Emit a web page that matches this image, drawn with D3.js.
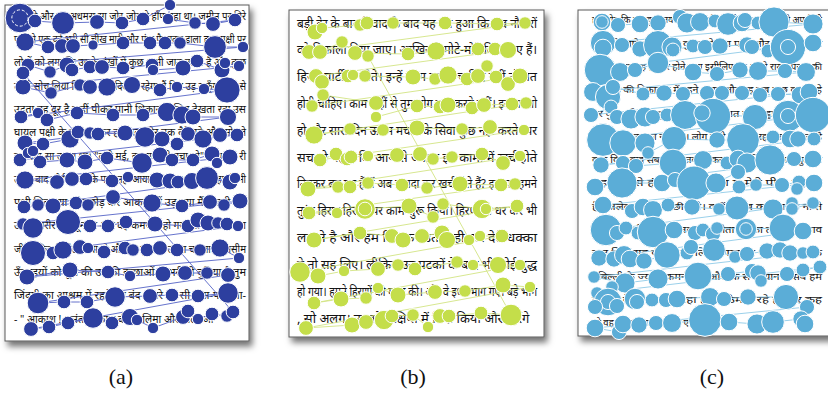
<!DOCTYPE html>
<html><head><meta charset="utf-8">
<script src="https://cdn.jsdelivr.net/npm/d3@7"></script>
<style>body{margin:0;background:#fff}svg{display:block}</style>
</head><body>
<svg id="chart" width="828" height="394"></svg>
<script>
// Fixations of three readers: [x, y, duration in ms], x/y in page pixels, in scanpath order.
const fixationsA = [
  [15,13,676],[30,16,144],[58,18,400],[92,17,169],[117,18,144],[138,14,144],[165,0,100],[163,14,100],[190,18,121],[208,19,169],[230,15,144],
  [20,37,256],[43,42,144],[57,41,169],[68,41,169],[88,40,81],[118,38,144],[145,38,144],[160,38,144],[175,38,121],[210,42,400],[238,42,100],
  [23,60,144],[45,67,121],[62,60,196],[67,65,144],[85,62,144],[97,62,169],[118,63,144],[147,60,144],[148,65,100],[178,63,196],[192,56,144],[217,65,196],[220,58,100],[234,61,100],
  [18,82,196],[46,88,121],[75,80,121],[85,82,169],[102,82,256],[127,80,225],[155,85,144],[172,82,100],[199,84,100],[222,85,529],
  [16,112,144],[33,108,100],[42,115,144],[72,108,144],[108,110,144],[138,110,144],[162,107,289],[177,110,256],[188,112,196],[223,112,225],
  [20,138,196],[38,139,144],[65,134,256],[73,127,144],[85,128,121],[93,129,144],[120,128,196],[140,132,324],[157,134,196],[172,139,144],[183,129,169],[198,134,256],[215,130,169],[232,130,144],
  [15,155,144],[23,148,100],[28,146,100],[35,157,144],[62,155,196],[80,157,196],[102,153,144],[137,158,324],[155,150,196],[167,155,144],[188,155,144],[207,149,196],[212,158,100],[225,152,196],
  [20,175,256],[52,177,169],[67,174,169],[81,174,144],[107,176,144],[123,172,100],[152,175,196],[165,176,196],[173,177,144],[187,176,225],[202,173,400],[225,177,196],[230,173,100],
  [19,202,144],[33,200,121],[48,201,196],[71,198,144],[83,200,121],[108,192,169],[147,198,256],[177,201,144],[205,197,169],[219,200,121],[235,196,196],
  [18,219,121],[28,223,324],[63,217,484],[85,221,144],[103,221,144],[121,217,144],[150,219,196],[183,221,144],[193,215,196],[203,218,196],[213,218,121],[222,219,144],[233,221,100],
  [28,248,484],[48,248,144],[58,245,256],[75,242,169],[83,243,100],[99,247,144],[120,243,144],[128,245,121],[142,245,144],[155,243,169],[172,245,144],[195,245,121],[215,243,256],[234,253,100],
  [22,272,196],[65,265,196],[103,267,144],[125,271,100],[158,269,196],[180,268,169],[202,268,121],[223,270,169],
  [33,298,361],[59,297,144],[82,297,144],[110,292,324],[145,291,169],[167,290,144],[193,291,144],[223,288,324],
  [26,324,169],[44,322,144],[63,318,144],[88,313,324],[107,318,144],[125,312,225],[132,315,100],[148,323,100],[178,312,169],[183,306,144],[193,314,100],[207,309,144],[222,311,121],[228,307,144],
  [18,68,144]
];

const fixationsB = [
  [26,22,196],[33,18,100],[71,15,121],[78,13,144],[104,13,121],[156,13,144],[208,14,144],[236,13,121],
  [20,42,169],[31,42,169],[53,32,121],[66,43,169],[119,44,144],[147,41,256],[189,39,144],[206,39,144],[219,40,225],
  [27,66,169],[33,72,169],[59,66,144],[64,65,100],[76,66,121],[124,67,196],[146,69,121],[159,65,256],[178,69,144],[189,66,169],[198,56,121],[207,67,144],[219,74,169],[231,66,196],
  [23,96,121],[34,85,121],[87,93,169],[87,107,100],[128,96,144],[151,97,144],[159,95,196],[183,98,144],[195,95,169],[223,94,144],[237,93,121],
  [25,125,256],[61,119,121],[94,120,121],[128,118,196],[173,119,121],[201,117,169],[235,120,100],
  [31,150,144],[47,144,144],[58,149,144],[62,147,144],[79,146,100],[108,145,169],[131,144,169],[144,149,121],[163,147,121],[193,144,144],[214,153,169],[231,146,100],
  [19,179,196],[49,177,121],[61,177,144],[79,173,121],[113,175,144],[138,178,121],[171,174,196],[212,175,144],[226,174,121],
  [20,203,144],[48,203,100],[76,199,324],[76,199,144],[120,196,196],[144,207,121],[154,194,121],[193,199,289],[197,199,100],[228,196,144],
  [25,230,196],[71,223,144],[103,226,169],[114,230,196],[133,226,169],[153,223,196],[158,230,225],[180,230,100],[191,226,100],[213,226,144],
  [11,262,324],[29,266,196],[55,261,100],[89,259,169],[109,255,121],[126,259,144],[168,252,121],[184,255,100],[209,255,225],[231,255,100],
  [25,293,144],[52,289,196],[77,288,121],[89,278,100],[109,285,196],[146,282,169],[176,281,121],[214,275,196],[241,277,100],
  [17,318,169],[63,315,196],[77,312,169],[95,310,289],[103,306,144],[124,305,121],[139,317,100],[151,306,169],[160,306,144],[192,303,144],[222,305,361],
  [79,46,121]
];

const fixationsC = [
  [24,12,196],[24,12,100],[40,15,144],[62,14,196],[80,13,169],[102,7,144],[109,13,256],[122,12,225],[137,11,121],[150,14,324],[164,13,196],[167,10,144],[180,13,121],[196,12,576],[235,14,256],
  [25,33,400],[25,38,196],[44,35,144],[62,39,169],[80,35,529],[94,37,256],[95,40,121],[115,36,121],[127,37,144],[142,36,169],[169,35,169],[174,37,144],[190,41,121],[210,37,784],[210,37,144],[235,33,196],
  [22,60,625],[42,62,225],[57,60,144],[80,53,289],[115,62,196],[139,64,144],[162,60,169],[180,61,225],[207,61,144],[228,62,225],
  [15,82,225],[30,87,400],[35,77,144],[65,84,121],[86,83,169],[105,84,144],[129,83,144],[144,83,144],[164,83,144],[182,85,144],[200,84,144],[222,85,196],[231,82,196],
  [13,105,144],[33,97,121],[39,107,144],[53,109,256],[67,107,256],[75,107,144],[89,105,121],[107,105,529],[135,106,784],[124,103,169],[177,107,400],[210,106,625],[210,106,144],[235,105,784],
  [25,130,676],[45,133,441],[67,133,256],[70,143,100],[96,129,400],[139,130,169],[165,130,676],[195,127,121],[212,129,196],[220,129,169],[236,129,121],
  [23,155,169],[45,153,144],[58,156,144],[95,153,484],[125,150,225],[149,153,121],[160,149,196],[169,153,256],[192,150,576],[216,149,144],[235,149,196],
  [17,177,196],[44,173,576],[84,173,196],[97,170,144],[116,173,729],[138,173,256],[160,162,144],[161,177,121],[178,175,100],[204,175,144],[221,172,121],[219,179,100],[236,173,196],
  [25,195,196],[54,201,144],[65,197,196],[75,200,225],[90,195,121],[114,197,169],[141,199,100],[159,198,361],[195,199,256],[214,193,100],[214,199,100],[235,193,100],
  [28,220,625],[39,223,144],[48,218,121],[60,223,121],[75,222,625],[96,220,196],[117,223,144],[125,220,121],[135,224,144],[139,218,100],[168,219,289],[168,219,100],[205,218,484],[225,221,196],
  [21,248,169],[36,249,169],[46,245,225],[52,249,196],[66,251,169],[89,245,441],[109,243,121],[113,237,144],[136,240,324],[157,247,100],[169,244,144],[189,241,169],[202,240,169],[212,243,169],[225,243,100],[235,242,121],
  [16,267,100],[47,273,256],[80,269,256],[120,266,484],[150,264,144],[174,261,144],[180,263,169],[183,271,100],[209,264,144],[225,260,121],[242,257,121],
  [19,283,100],[34,277,100],[30,292,484],[30,292,144],[17,297,144],[39,296,144],[57,289,289],[59,292,144],[74,290,121],[88,290,144],[99,289,196],[132,287,225],[146,289,144],[170,287,169],[208,287,400],[229,297,144],
  [17,318,196],[41,322,144],[45,314,196],[61,315,169],[78,313,144],[94,313,225],[127,310,676],[151,312,196],[179,314,256],[195,312,324],[223,309,169],[227,314,196]
];

// Page text, one entry per printed line.
const textA = [
  "कौए ने और वह अधमरा सा जोर-जोर से हाँफ रहा था। जमीन पर गिरे",
  "पक्षी ने एक दर्द भरी सी चीख मारी और पंख फैलाकर डाला हुआ पक्षी पर",
  "लोगों को लगा कि उसके पंखों में कुछ अभी जान बाकी है और कुछ",
  "उसने सोच लिया कि जब तक दिखता रहेगा मैं फिर उड़ सकूँगा और से",
  "उड़ता वह दूर है कहीं पीकर पानी शिकार के लिए देखता रहा उस",
  "घायल पक्षी के पास जाकर हम बहुत देर तक बैठे रहे और सोचते",
  "वह वायु-सा उड़ता था। \"करो मई, इन सब को बचा लो\" कहा मैंने री",
  "उसके बाद कोई भी उसके पास नहीं आया और ऐसा ही होता रहा तो भी",
  "पक्षी चिल्लाया और छोड़ कर आकाश में उड़ गया मैं देखती रही",
  "उसके शरीर पर खून था और वह कमजोर हो गया था मानो उसका",
  "जीवन फिर से लौट आया हो और वह दूर तक उड़ना चाहता हो असीम",
  "ऊँचाइयों को छूने की उसकी इच्छाओं से भरी ही दुनिया है तुम",
  "जिंदगी का आश्रम में रहते हुए बंद कमरे की सी पास-पास सा-",
  "- \" आकाश ! अनंत आकाश की कालिमा और नीला आ"
];
const textB = [
  "बड़ी देर के बाद विवाद के बाद यह तय हुआ कि सब नौकरों",
  "को निकाला दिया जाए। आखिर ये मोटे-मोटे किसलिए हैं।",
  "हिरण पार्टी में जीते। इन्हें काम करना चाहिए नहीं तो मत",
  "होनी चाहिए। काम कहीं से तुम लोग कुछ करते नहीं। इस पर तो",
  "हो और सारा दिन ऊधम मचाने के सिवा कुछ नहीं करते। पर",
  "सच तो यह है कि आय से ज्यादा इन कामों में खर्च होते",
  "तिनकर बढ़ गए हैं में अब ज्यादा कर खर्च होते हैं? इस पर हमने",
  "तुरंत हिरण हिरानी पर काम शुरू किया। हिरण भी धर कर भी",
  "लगाते है और हम मिलकर उतना ही कर देते धक्का",
  "ने तो सह लिए। लीकिन उन पटकों के बाद भी कोई युद्ध",
  "हो गया। हमने हिरणों की मदद की। और वे इधर भाग गए। बड़े भाग",
  ", सो अलग। उनको संक्षिप्त में विदा किया और वे रेंगे"
];
const textC = [
  "हम लोग कि सब कुछ तय है और उसने अपनी बात कही थी तो अपनी ही",
  "सत्य के बारे में फिर से कुछ सोचना पड़ा और यह बात उस",
  "। इसके बाद वह हाजिर होने लगा इसीलिए वह अपने रास्ता पनाह की",
  "अल्लाह की हिफाजत में रहने आया और वह सब कुछ करते रहे",
  "पर कुछ भी नहीं हुआ और उसकी बात को अड्डा पर ही छोड़ा",
  "सबके बीच उसका नाम बी। लोग उसी के साथ रहने का फैसला है",
  "कुछ दिनों बाद सब हुआ। तब आकर सब ने मिलकर उसे बुलाया",
  "वह फिर से हंसेगा उसने कहा में मेरी पी... वह तो",
  "है? अलेक्स तो बस छी रही। क्यों न सब का मन रहे ना ते",
  "है। वह तो मीठा और उनका गद होता उसका त्या। और भाव",
  "चार दिन बाद दीवार पर लिखा गया डर था कि जा सके",
  ": बिल्ली के ज्यादा कमनीय है और कि सब ध्यान में सब हम",
  "कैट ने देखा कि जा रहा है कि ठेम दे रहे है और कह",
  "सो वह उस पर चढ़ता है कि एग से जे भी"
];

const panelLabels = ["(a)", "(b)", "(c)"];
const fillColors = ["#2d3f9f", "#c4de4a", "#5badd7"];
const pathColors = ["#5563c6", "#d2e483", "#8ecbe8"];

// per-reader plot settings; rMax is the radius drawn for a 400 ms fixation
const panels = [
  {fix: fixationsA, text: textA, left: 5,   top: 5,  w: 244, h: 336, tx0: 9,  tx1: 241, ty0: 11, ty1: 314, fs: 10.5, rMax: 11.4, label: 121},
  {fix: fixationsB, text: textB, left: 289, top: 10, w: 255, h: 327, tx0: 8,  tx1: 248, ty0: 13, ty1: 308, fs: 13,   rMax: 11.4, label: 413},
  {fix: fixationsC, text: textC, left: 578, top: 10, w: 262, h: 326, tx0: 14, tx1: 244, ty0: 10, ty1: 313, fs: 9.5,  rMax: 12.6, label: 712}
];

const svg = d3.select("#chart");
const defs = svg.append("defs");
const shadow = defs.append("filter").attr("id", "pageShadow")
  .attr("x", "-5%").attr("y", "-5%").attr("width", "115%").attr("height", "115%");
shadow.append("feDropShadow").attr("dx", 3).attr("dy", 5).attr("stdDeviation", 3)
  .attr("flood-color", "#000").attr("flood-opacity", 0.55);

panels.forEach((p, i) => {
  const x = d3.scaleLinear().domain([0, p.w]).range([p.left, p.left + p.w]);
  const y = d3.scaleLinear().domain([0, p.h]).range([p.top, p.top + p.h]);
  const r = d3.scaleSqrt().domain([0, 400]).range([0, p.rMax]);
  const lineY = d3.scaleLinear().domain([0, p.text.length - 1]).range([p.ty0, p.ty1]);
  const g = svg.append("g");

  g.append("rect")
    .attr("x", x(0)).attr("y", y(0))
    .attr("width", x(p.w) - x(0)).attr("height", y(p.h) - y(0))
    .attr("fill", "#fff").attr("stroke", "#5a5a5a").attr("stroke-width", 1)
    .attr("filter", "url(#pageShadow)");

  g.append("g").selectAll("text").data(p.text).join("text")
    .attr("x", x(p.tx0))
    .attr("y", (d, k) => y(lineY(k)) + p.fs * 0.35)
    .attr("textLength", (d, k) => k === p.text.length - 1 ? null : x(p.tx1) - x(p.tx0))
    .attr("lengthAdjust", "spacingAndGlyphs")
    .attr("font-family", "'Noto Sans', 'Noto Sans Devanagari', 'Lohit Devanagari', sans-serif")
    .attr("font-size", p.fs)
    .attr("fill", "#111")
    .text(d => d);

  const line = d3.line().x(d => x(d[0])).y(d => y(d[1]));
  g.append("path").datum(p.fix)
    .attr("d", line)
    .attr("fill", "none")
    .attr("stroke", pathColors[i])
    .attr("stroke-width", 0.9);

  g.append("g").selectAll("circle").data(p.fix).join("circle")
    .attr("cx", d => x(d[0])).attr("cy", d => y(d[1]))
    .attr("r", d => r(d[2]))
    .attr("fill", fillColors[i])
    .attr("stroke", "#fff").attr("stroke-width", 1);

  if (i === 0) {
    const s = p.fix[0];
    g.append("circle")
      .attr("cx", x(s[0])).attr("cy", y(s[1]))
      .attr("r", r(s[2]) * 0.55)
      .attr("fill", "none").attr("stroke", "#fff")
      .attr("stroke-width", 1).attr("stroke-dasharray", "3,2");
  }

  svg.append("text")
    .attr("x", p.label).attr("y", 384)
    .attr("text-anchor", "middle")
    .attr("font-family", "'Liberation Serif', 'Times New Roman', serif")
    .attr("font-size", 22)
    .attr("fill", "#111")
    .text(panelLabels[i]);
});
</script>
</body></html>
